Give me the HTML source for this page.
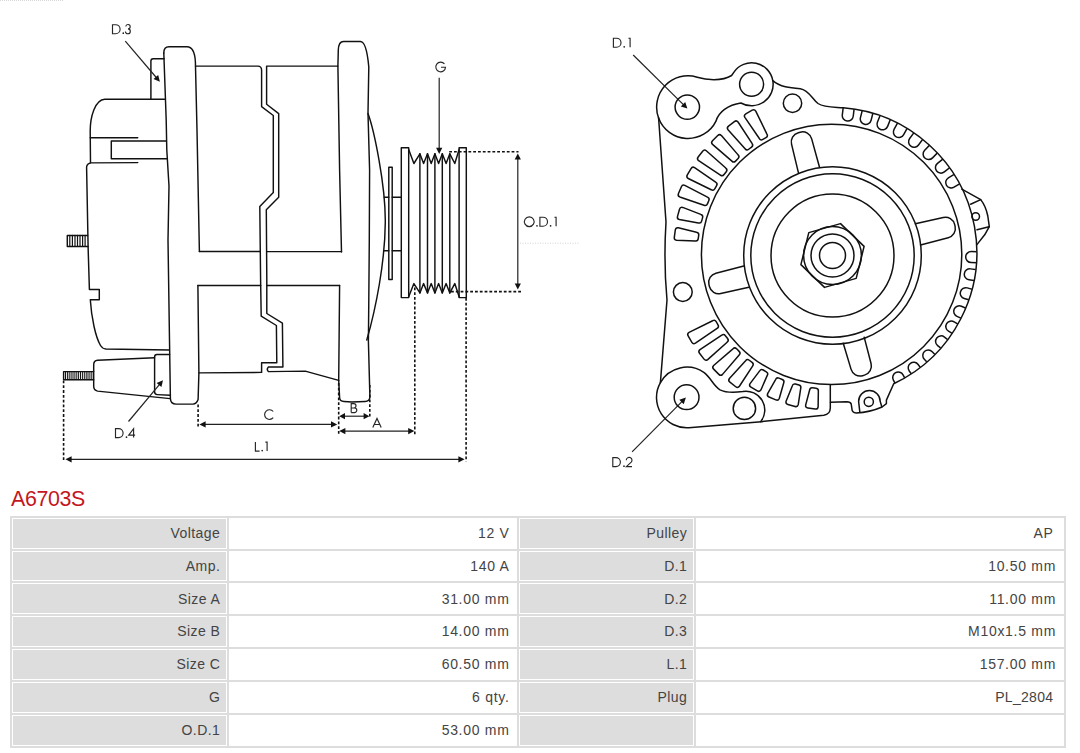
<!DOCTYPE html>
<html><head><meta charset="utf-8"><title>A6703S</title>
<style>
html,body{margin:0;padding:0;background:#fff}
body{width:1080px;height:753px;position:relative;overflow:hidden;font-family:"Liberation Sans",sans-serif}
.g{position:absolute;background:#ddd}
.t{position:absolute;font-size:14px;line-height:16px;height:16px;color:#444;white-space:nowrap;letter-spacing:0.45px}
.v{letter-spacing:0.7px}
h1{position:absolute;left:11px;top:487px;margin:0;font-size:21.4px;line-height:24px;font-weight:normal;color:#c4161d;letter-spacing:-0.35px}
</style></head><body>
<svg width="1080" height="480" viewBox="0 0 1080 480" style="position:absolute;left:0;top:0"><g fill="none" stroke="#111" stroke-width="1.45" stroke-linejoin="round" stroke-linecap="round"><path d="M163.8,53 Q163.8,46.8 169,46.8 H187 Q194.6,46.8 195.4,62 L197,130 L199.4,251.5"/>
<path d="M163.8,53 L166.2,120 L166.8,150 L169,186 L168,240 L169.5,340 L170.4,398.5 Q170.6,404 176,404.1 H193 Q196.5,404 198.1,399.5 L198.9,372.9 L197.9,285.4"/>
<path d="M164.1,58.7 H153.2 Q150.9,58.7 150.9,61 V99.2"/>
<path d="M164.6,99.2 H104.8 C95,99.5 90.2,117 90.2,131 L90.5,162.8"/>
<path d="M90.3,137.8 H137.7"/>
<path d="M166.4,141 H111.3 V158.7 H166.9"/>
<path d="M137.7,162.6 L90.5,162.9 L88.3,163.8 Q86.5,165 86.6,167.6 L88.1,247 L89.4,289.5 H99.3 V299.7 H90.3 C91.5,318 95.5,337 100.5,345.5 Q102.5,348.8 106,349 L169.3,350"/>
<path d="M87.6,235.4 H67.3 V246.5 H88"/>
<path d="M69.8,235.4 V246.5" stroke-width="1.2"/>
<path d="M72.4,235.4 V246.5" stroke-width="1.2"/>
<path d="M75,235.4 V246.5" stroke-width="1.2"/>
<path d="M77.5,235.4 V246.5" stroke-width="1.2"/>
<path d="M80,235.4 V246.5" stroke-width="1.2"/>
<path d="M82.6,235.4 V246.5" stroke-width="1.2"/>
<path d="M85.1,235.4 V246.5" stroke-width="1.2"/>
<path d="M154.6,357.7 L97.6,360.2 Q93.7,360.6 93.7,364.6 V386.3 Q93.7,390.4 97.6,391.1 L170.1,398.6"/>
<path d="M169.6,354.5 H157 Q154.6,354.5 154.6,357 V391.8 Q154.6,394.5 157.2,394.6 L170.2,395.2"/>
<path d="M93.7,371.6 H63.6 V379.7 H93.7"/>
<path d="M65.5,371.6 V379.7" stroke-width="1"/>
<path d="M67.4,371.6 V379.7" stroke-width="1"/>
<path d="M69.2,371.6 V379.7" stroke-width="1"/>
<path d="M71.1,371.6 V379.7" stroke-width="1"/>
<path d="M73,371.6 V379.7" stroke-width="1"/>
<path d="M74.9,371.6 V379.7" stroke-width="1"/>
<path d="M76.8,371.6 V379.7" stroke-width="1"/>
<path d="M78.6,371.6 V379.7" stroke-width="1"/>
<path d="M80.5,371.6 V379.7" stroke-width="1"/>
<path d="M82.4,371.6 V379.7" stroke-width="1"/>
<path d="M84.3,371.6 V379.7" stroke-width="1"/>
<path d="M86.2,371.6 V379.7" stroke-width="1"/>
<path d="M88,371.6 V379.7" stroke-width="1"/>
<path d="M89.9,371.6 V379.7" stroke-width="1"/>
<path d="M91.8,371.6 V379.7" stroke-width="1"/>
<path d="M195.5,66.1 H258 Q261.4,66.2 261.6,70 V106.6 L273.3,115.5 V192.5 L259.8,206.5 L260.6,280 L261.2,316.2 L276.4,325.5 L276.8,362.7 H261.6 V372.4 L198.9,372.9"/>
<path d="M337.9,66.1 H266.6 V104.3 L278.7,113.6 V197.2 L266.3,209.8 L266.8,280 L266.8,313.5 L282.4,323.1 L282.9,367 H268.4 Q266.2,369.3 268.4,371.6 L305.2,371.1 L338.7,380.4"/>
<path d="M199.4,251.5 H260.3"/>
<path d="M266.6,251.6 H341.5"/>
<path d="M197.9,285.4 H260.7"/>
<path d="M266.8,285.4 H339.6"/>
<path d="M341.5,252 L339.6,170 L337.9,66.1 L338.3,50 Q338.6,41.5 343.5,41.5 H360.5 Q366.5,41.5 368.8,67 L368,113.6 L369.6,170 L369.3,240 L368.8,300 L368.4,341.3 L369.9,397 Q369.8,401.3 365,401.5 L352,402 L344,401.5 Q339.8,401.3 339.6,397.5 L338.7,380.4 L339.6,285.4"/>
<path d="M368,113.6 C374,130 385.6,185 385.3,222 C385,262 376,308 366.8,340"/>
<path d="M388.8,279.4 V167.2 H392.2 V279.4 Z"/>
<path d="M384.3,197.3 H388.8 M392.2,197.3 H401.3 M384.3,250.7 H388.8 M392.2,250.7 H401.3"/>
<path d="M401.3,147.7 H408.7 V297.6 H401.3 Z"/>
<path d="M459.1,147.7 H466.3 V297.6 H459.1 Z"/>
<path d="M408.7,149.5 L413.9,163.5 L419.9,153.8 L423.6,163.5 L427.5,153.8 L431.2,163.5 L434.9,153.8 L438.6,163.5 L442.3,153.8 L446.1,163.5 L449.8,153.8 L454.8,163.5 L459.1,149.5"/>
<path d="M408.7,296.7 L413.9,283.6 L419.9,292.9 L423.6,283.6 L427.5,292.9 L431.2,283.6 L434.9,292.9 L438.6,283.6 L442.3,292.9 L446.1,283.6 L449.8,292.9 L454.8,283.6 L459.1,296.7"/>
<path d="M419.9,153.8 V292.9"/>
<path d="M427.5,153.8 V292.9"/>
<path d="M434.9,153.8 V292.9"/>
<path d="M442.3,153.8 V292.9"/>
<path d="M449.8,153.8 V292.9"/></g>
<g fill="none" stroke="#111" stroke-width="1.6" stroke-dasharray="2.8 2"><path d="M63.6,380.5 V461.5"/><path d="M198.1,404.5 V427.4"/><path d="M338.7,383 V434"/><path d="M369.8,385 V418"/><path d="M414.8,287.4 V434.6"/><path d="M466.1,298 V461.5"/><path d="M449.2,151.7 H518.5"/><path d="M451,291.6 H521.3"/></g>
<path d="M204.4,424.4 L332.2,424.4" stroke="#222" stroke-width="1.2" fill="none"/><path d="M337.2,424.4 L331,427.5 L331,421.3 Z" fill="#111"/><path d="M199.4,424.4 L205.6,421.3 L205.6,427.5 Z" fill="#111"/><path d="M343.8,416.2 L364.8,416.2" stroke="#222" stroke-width="1.2" fill="none"/><path d="M369.4,416.2 L363.6,419.3 L363.6,413.1 Z" fill="#111"/><path d="M339.2,416.2 L345,413.1 L345,419.3 Z" fill="#111"/><path d="M344.2,431.1 L409.4,431.1" stroke="#222" stroke-width="1.2" fill="none"/><path d="M414.4,431.1 L408.2,434.2 L408.2,428 Z" fill="#111"/><path d="M339.2,431.1 L345.4,428 L345.4,434.2 Z" fill="#111"/><path d="M70.4,459.3 L459.6,459.3" stroke="#222" stroke-width="1.2" fill="none"/><path d="M464.6,459.3 L458.4,462.4 L458.4,456.2 Z" fill="#111"/><path d="M65.4,459.3 L71.6,456.2 L71.6,462.4 Z" fill="#111"/><path d="M517.8,158.4 L517.8,284.6" stroke="#222" stroke-width="1.2" fill="none"/><path d="M517.8,289.6 L514.7,283.4 L520.9,283.4 Z" fill="#111"/><path d="M517.8,153.4 L520.9,159.6 L514.7,159.6 Z" fill="#111"/><path d="M439.2,77.7 L439.2,149" stroke="#222" stroke-width="1.2" fill="none"/><path d="M439.2,154 L436.1,147.8 L442.3,147.8 Z" fill="#111"/><path d="M125.3,41.2 L156.7,78" stroke="#222" stroke-width="1.2" fill="none"/><path d="M159.9,81.8 L153.5,79.1 L158.2,75.1 Z" fill="#111"/><path d="M128.5,421.5 L159.8,384.1" stroke="#222" stroke-width="1.2" fill="none"/><path d="M163,380.3 L161.4,387 L156.6,383.1 Z" fill="#111"/><path d="M633.2,55 L683.9,105.1" stroke="#222" stroke-width="1.2" fill="none"/><path d="M687.4,108.6 L680.8,106.4 L685.2,102 Z" fill="#111"/><path d="M632.1,451.8 L682.4,401.1" stroke="#222" stroke-width="1.2" fill="none"/><path d="M685.9,397.6 L683.7,404.2 L679.3,399.8 Z" fill="#111"/>
<path d="M520,243.2 H580" stroke="#d4d4d4" stroke-width="1" stroke-dasharray="1 1.5" fill="none"/>
<path d="M0,0.5 H64" stroke="#d8d8d8" stroke-width="1" stroke-dasharray="1 1" fill="none"/>
<g fill="none" stroke="#111" stroke-width="1.5" stroke-linejoin="round" stroke-linecap="round"><circle cx="832.5" cy="255.5" r="13"/>
<circle cx="832.5" cy="255.5" r="21.5"/>
<circle cx="832.5" cy="255.5" r="28.9"/>
<circle cx="832.5" cy="255.5" r="61.5"/>
<circle cx="832.5" cy="255.5" r="81.7"/>
<circle cx="832.5" cy="255.5" r="88.8"/>
<path d="M840.5,223.6 L864.1,246.4 L856.2,278.4 L824.5,287.4 L800.9,264.6 L808.8,232.6 Z"/>
<circle cx="831.6" cy="254.4" r="130.2"/>
<path transform="translate(832.2,255.5) rotate(-13.8)" d="M88.3,-10.9 L116.9,-10.4 A9.4,9.4 0 0 1 126.3,-1 L126.3,1 A9.4,9.4 0 0 1 116.9,10.4 L88.3,10.9"/>
<path transform="translate(831,255.2) rotate(-104.5)" d="M88.3,-10.9 L117.4,-10.4 A9.4,9.4 0 0 1 126.8,-1 L126.8,1 A9.4,9.4 0 0 1 117.4,10.4 L88.3,10.9"/>
<path transform="translate(832.2,256) rotate(166.5)" d="M88.3,-10.9 L117.1,-10.4 A9.4,9.4 0 0 1 126.5,-1 L126.5,1 A9.4,9.4 0 0 1 117.1,10.4 L88.3,10.9"/>
<path transform="translate(830,255.2) rotate(74.4)" d="M88.3,-10.9 L115.4,-10.4 A9.4,9.4 0 0 1 124.8,-1 L124.8,1 A9.4,9.4 0 0 1 115.4,10.4 L88.3,10.9"/>
<circle cx="687.3" cy="107.1" r="12.2"/>
<circle cx="751.6" cy="84.3" r="12"/>
<circle cx="792.5" cy="103.3" r="9.2"/>
<circle cx="682.8" cy="292" r="9.4"/>
<circle cx="686.6" cy="397.2" r="12.4"/>
<circle cx="744.4" cy="408.4" r="11.2"/>
<circle cx="868.8" cy="401.8" r="4.6"/>
<circle cx="975.7" cy="216.5" r="3.8"/>
<path d="M658.6,118 A31.3,31.3 0 0 1 697.2,77.2 C706,80 722,81.5 731.6,75.5 L733.8,72.3 A21.5,21.5 0 0 1 772.8,80.6 C780,87 790,88 800.3,88.7 C809,90 812,99 818,103.5 C824,107.5 833,107 843.2,107.7 A145.2,145.2 0 0 1 893.7,383.7 L886.4,400.1 V403.6 L882.1,407 C874,410.5 864,412.6 856.2,413 Q852,412.5 851.9,408.7 L851.2,404 Q850.5,401.8 846.8,401.8 L830.5,402.2"/>
<path d="M830.3,385 L830.3,408 Q830.2,414.3 823.8,415.2 L761.2,421.7 L688.9,427.7 A30.3,30.3 0 0 1 660.4,382.6 L667,300 Q663.5,262 666,222 L658.6,118"/>
<path d="M658.6,118 A31.3,31.3 0 0 0 716,121.1 C718.5,112 728,104.8 740.9,103 A21.5,21.5 0 0 0 772.8,80.6"/>
<path d="M660.4,382.6 A30.3,30.3 0 0 1 704.2,372.7 C711,378 714,386.5 720,389.8 C725,392.3 732,393 742.7,391.5 A18.8,18.8 0 0 1 760.7,421.7"/>
<path d="M859.8,411.8 L858.6,401.4 A10.8,10.8 0 0 1 880.2,401.4 L881.8,406.8"/>
<path d="M961.8,189.2 L980.7,199.6 C985,205 987,212 987.8,216 L989.3,226.6 L984.7,234.8 L976.9,244.6"/>
<path d="M970.6,204.2 L980.7,199.6 M977,229.8 L989.1,226.7"/>
<path transform="translate(832.5,255.5) rotate(239.8)" d="M137.9,-4.4 L163.4,-6.3 Q166,-6.3 166,-3.7 L166,3.7 Q166,6.3 163.4,6.3 L137.9,4.4 Q135.3,4.4 135.3,1.8 L135.3,-1.8 Q135.3,-4.4 137.9,-4.4 Z"/>
<path transform="translate(832.5,255.5) rotate(232.5)" d="M137.9,-4.4 L163.4,-6.3 Q166,-6.3 166,-3.7 L166,3.7 Q166,6.3 163.4,6.3 L137.9,4.4 Q135.3,4.4 135.3,1.8 L135.3,-1.8 Q135.3,-4.4 137.9,-4.4 Z"/>
<path transform="translate(832.5,255.5) rotate(225)" d="M137.9,-4.4 L163.4,-6.3 Q166,-6.3 166,-3.7 L166,3.7 Q166,6.3 163.4,6.3 L137.9,4.4 Q135.3,4.4 135.3,1.8 L135.3,-1.8 Q135.3,-4.4 137.9,-4.4 Z"/>
<path transform="translate(832.5,255.5) rotate(217.5)" d="M137.9,-4.4 L163.9,-6.3 Q166.5,-6.3 166.5,-3.7 L166.5,3.7 Q166.5,6.3 163.9,6.3 L137.9,4.4 Q135.3,4.4 135.3,1.8 L135.3,-1.8 Q135.3,-4.4 137.9,-4.4 Z"/>
<path transform="translate(832.5,255.5) rotate(210.3)" d="M137.9,-4.4 L163.4,-6.3 Q166,-6.3 166,-3.7 L166,3.7 Q166,6.3 163.4,6.3 L137.9,4.4 Q135.3,4.4 135.3,1.8 L135.3,-1.8 Q135.3,-4.4 137.9,-4.4 Z"/>
<path transform="translate(832.5,255.5) rotate(203.2)" d="M137.9,-4.4 L163.4,-6.3 Q166,-6.3 166,-3.7 L166,3.7 Q166,6.3 163.4,6.3 L137.9,4.4 Q135.3,4.4 135.3,1.8 L135.3,-1.8 Q135.3,-4.4 137.9,-4.4 Z"/>
<path transform="translate(832.5,255.5) rotate(195.5)" d="M137.9,-4.4 L157.2,-6.3 Q159.8,-6.3 159.8,-3.7 L159.8,3.7 Q159.8,6.3 157.2,6.3 L137.9,4.4 Q135.3,4.4 135.3,1.8 L135.3,-1.8 Q135.3,-4.4 137.9,-4.4 Z"/>
<path transform="translate(832.5,255.5) rotate(187.9)" d="M137.9,-4.4 L156.6,-6.3 Q159.2,-6.3 159.2,-3.7 L159.2,3.7 Q159.2,6.3 156.6,6.3 L137.9,4.4 Q135.3,4.4 135.3,1.8 L135.3,-1.8 Q135.3,-4.4 137.9,-4.4 Z"/>
<path transform="translate(832.5,255.5) rotate(149.6)" d="M136.4,-4.4 L162.6,-6.3 Q165.2,-6.3 165.2,-3.7 L165.2,3.7 Q165.2,6.3 162.6,6.3 L136.4,4.4 Q133.8,4.4 133.8,1.8 L133.8,-1.8 Q133.8,-4.4 136.4,-4.4 Z"/>
<path transform="translate(832.5,255.5) rotate(142.4)" d="M136.4,-4.4 L162.4,-6.3 Q165,-6.3 165,-3.7 L165,3.7 Q165,6.3 162.4,6.3 L136.4,4.4 Q133.8,4.4 133.8,1.8 L133.8,-1.8 Q133.8,-4.4 136.4,-4.4 Z"/>
<path transform="translate(832.5,255.5) rotate(135)" d="M136.4,-4.4 L161.8,-6.3 Q164.4,-6.3 164.4,-3.7 L164.4,3.7 Q164.4,6.3 161.8,6.3 L136.4,4.4 Q133.8,4.4 133.8,1.8 L133.8,-1.8 Q133.8,-4.4 136.4,-4.4 Z"/>
<path transform="translate(832.5,255.5) rotate(127.7)" d="M136.4,-4.4 L160.4,-6.3 Q163,-6.3 163,-3.7 L163,3.7 Q163,6.3 160.4,6.3 L136.4,4.4 Q133.8,4.4 133.8,1.8 L133.8,-1.8 Q133.8,-4.4 136.4,-4.4 Z"/>
<path transform="translate(832.5,255.5) rotate(120.4)" d="M136.4,-4.4 L152.2,-6.3 Q154.8,-6.3 154.8,-3.7 L154.8,3.7 Q154.8,6.3 152.2,6.3 L136.4,4.4 Q133.8,4.4 133.8,1.8 L133.8,-1.8 Q133.8,-4.4 136.4,-4.4 Z"/>
<path transform="translate(832.5,255.5) rotate(112.8)" d="M136.4,-4.4 L152.4,-6.3 Q155,-6.3 155,-3.7 L155,3.7 Q155,6.3 152.4,6.3 L136.4,4.4 Q133.8,4.4 133.8,1.8 L133.8,-1.8 Q133.8,-4.4 136.4,-4.4 Z"/>
<path transform="translate(832.5,255.5) rotate(105.3)" d="M136.4,-4.4 L152.9,-6.3 Q155.5,-6.3 155.5,-3.7 L155.5,3.7 Q155.5,6.3 152.9,6.3 L136.4,4.4 Q133.8,4.4 133.8,1.8 L133.8,-1.8 Q133.8,-4.4 136.4,-4.4 Z"/>
<path transform="translate(832.5,255.5) rotate(97.8)" d="M136.4,-4.4 L151.9,-6.3 Q154.5,-6.3 154.5,-3.7 L154.5,3.7 Q154.5,6.3 151.9,6.3 L136.4,4.4 Q133.8,4.4 133.8,1.8 L133.8,-1.8 Q133.8,-4.4 136.4,-4.4 Z"/></g>
<clipPath id="oc"><circle cx="831.6" cy="252.4" r="145.2"/></clipPath>
<g clip-path="url(#oc)" fill="none" stroke="#111" stroke-width="1.5"><path transform="translate(831.2,254.6) rotate(-83.2)" d="M152,-5.5 L140,-5.5 A5.5,5.5 0 0 0 140,5.5 L152,5.5"/><path transform="translate(831.2,254.6) rotate(-75.7)" d="M152,-5.5 L140,-5.5 A5.5,5.5 0 0 0 140,5.5 L152,5.5"/><path transform="translate(831.2,254.6) rotate(-68.5)" d="M152,-5.5 L140,-5.5 A5.5,5.5 0 0 0 140,5.5 L152,5.5"/><path transform="translate(831.2,254.6) rotate(-61.1)" d="M152,-5.5 L140,-5.5 A5.5,5.5 0 0 0 140,5.5 L152,5.5"/><path transform="translate(831.2,254.6) rotate(-53.7)" d="M152,-5.5 L140,-5.5 A5.5,5.5 0 0 0 140,5.5 L152,5.5"/><path transform="translate(831.2,254.6) rotate(-45.9)" d="M152,-5.5 L140,-5.5 A5.5,5.5 0 0 0 140,5.5 L152,5.5"/><path transform="translate(831.2,254.6) rotate(-38.4)" d="M152,-5.5 L140,-5.5 A5.5,5.5 0 0 0 140,5.5 L152,5.5"/><path transform="translate(831.2,254.6) rotate(-31)" d="M152,-5.5 L140,-5.5 A5.5,5.5 0 0 0 140,5.5 L152,5.5"/><path transform="translate(831.2,254.6) rotate(1)" d="M152,-5.5 L140,-5.5 A5.5,5.5 0 0 0 140,5.5 L152,5.5"/><path transform="translate(831.2,254.6) rotate(8.1)" d="M152,-5.5 L140,-5.5 A5.5,5.5 0 0 0 140,5.5 L152,5.5"/><path transform="translate(831.2,254.6) rotate(16)" d="M152,-5.5 L140,-5.5 A5.5,5.5 0 0 0 140,5.5 L152,5.5"/><path transform="translate(831.2,254.6) rotate(23.9)" d="M152,-5.5 L140,-5.5 A5.5,5.5 0 0 0 140,5.5 L152,5.5"/><path transform="translate(831.2,254.6) rotate(30.9)" d="M152,-5.5 L140,-5.5 A5.5,5.5 0 0 0 140,5.5 L152,5.5"/><path transform="translate(831.2,254.6) rotate(38.3)" d="M152,-5.5 L140,-5.5 A5.5,5.5 0 0 0 140,5.5 L152,5.5"/><path transform="translate(831.2,254.6) rotate(46.1)" d="M152,-5.5 L140,-5.5 A5.5,5.5 0 0 0 140,5.5 L152,5.5"/><path transform="translate(831.2,254.6) rotate(53.9)" d="M152,-5.5 L140,-5.5 A5.5,5.5 0 0 0 140,5.5 L152,5.5"/><path transform="translate(831.2,254.6) rotate(61.4)" d="M152,-5.5 L140,-5.5 A5.5,5.5 0 0 0 140,5.5 L152,5.5"/></g>
<g fill="none" stroke="#262626" stroke-width="1.15" stroke-linejoin="miter" stroke-linecap="butt"><path transform="translate(112.5,33.7)" d="M0,0 V-9 H3.1 A4.5,4.5 0 0 1 3.1,0 Z"/><circle cx="123.3" cy="33.2" r="0.85" fill="#222" stroke="none"/><path transform="translate(125.1,33.7)" d="M0.7,-7.2 A2.2,2.2 0 1 1 2.9,-4.8 A2.45,2.45 0 1 1 0.3,-2.2"/><path transform="translate(435.8,71.5)" d="M8.7,-7.5 A4.85,4.85 0 1 0 9.7,-4.3 H5.2"/><path transform="translate(524.4,226.2)" d="M4.85,-9.35 A4.85,4.85 0 1 1 4.84,-9.35 Z"/><circle cx="537" cy="225.8" r="0.85" fill="#222" stroke="none"/><path transform="translate(539.9,226.2)" d="M0,0 V-9 H3.1 A4.5,4.5 0 0 1 3.1,0 Z"/><circle cx="550.6" cy="225.8" r="0.85" fill="#222" stroke="none"/><path transform="translate(554.4,226.2)" d="M0,-9 H1.7 V0"/><path transform="translate(264.6,419.1)" d="M8.6,-7.6 A4.85,4.85 0 1 0 8.6,-1.4"/><path transform="translate(351.2,412.6)" d="M0,0 V-9 H2.6 A2.2,2.2 0 0 1 2.6,-4.6 H0 M2.6,-4.6 H3.3 A2.3,2.3 0 0 1 3.3,0 H0"/><path transform="translate(372.8,427.6)" d="M0,0 L4.2,-9.2 L8.4,0 M1.6,-3.1 H6.8"/><path transform="translate(255.4,451.1)" d="M0,-9 V0 H4.2"/><circle cx="262.2" cy="450.6" r="0.85" fill="#222" stroke="none"/><path transform="translate(265.4,451.1)" d="M0,-9 H1.7 V0"/><path transform="translate(115.5,437.6)" d="M0,0 V-9 H3.1 A4.5,4.5 0 0 1 3.1,0 Z"/><circle cx="126.5" cy="437.2" r="0.85" fill="#222" stroke="none"/><path transform="translate(128.7,437.6)" d="M4.9,0 V-9 L0,-2.5 H6.4"/><path transform="translate(613.4,47.2)" d="M0,0 V-9 H3.1 A4.5,4.5 0 0 1 3.1,0 Z"/><circle cx="624.2" cy="46.8" r="0.85" fill="#222" stroke="none"/><path transform="translate(628.4,47.2)" d="M0,-9 H1.7 V0"/><path transform="translate(612.8,466.6)" d="M0,0 V-9 H3.1 A4.5,4.5 0 0 1 3.1,0 Z"/><circle cx="624" cy="466.2" r="0.85" fill="#222" stroke="none"/><path transform="translate(626,466.6)" d="M0.3,-6.3 A2.85,2.85 0 1 1 5.2,-4.4 L0.4,0 H6"/></g></svg>
<h1>A6703S</h1>
<div class="g" style="left:10px;top:516px;width:1056px;height:2px"></div>
<div class="g" style="left:10px;top:549px;width:1056px;height:2px"></div>
<div class="g" style="left:10px;top:581px;width:1056px;height:2px"></div>
<div class="g" style="left:10px;top:614px;width:1056px;height:2px"></div>
<div class="g" style="left:10px;top:647px;width:1056px;height:2px"></div>
<div class="g" style="left:10px;top:680px;width:1056px;height:2px"></div>
<div class="g" style="left:10px;top:713px;width:1056px;height:2px"></div>
<div class="g" style="left:10px;top:746px;width:1056px;height:2px"></div>
<div class="g" style="left:10px;top:516px;width:2px;height:232px"></div>
<div class="g" style="left:227px;top:516px;width:2px;height:232px"></div>
<div class="g" style="left:517px;top:516px;width:2px;height:232px"></div>
<div class="g" style="left:694px;top:516px;width:2px;height:232px"></div>
<div class="g" style="left:1064px;top:516px;width:2px;height:232px"></div>
<div class="g" style="left:13px;top:519px;width:213px;height:29px"></div>
<div class="g" style="left:520px;top:519px;width:173px;height:29px"></div>
<div class="t" style="right:859.7px;top:524.8px">Voltage</div>
<div class="t v" style="right:570.5px;top:524.8px">12 V</div>
<div class="t" style="right:392.7px;top:524.8px">Pulley</div>
<div class="t v" style="right:26.4px;top:524.8px">AP</div>
<div class="g" style="left:13px;top:552px;width:213px;height:28px"></div>
<div class="g" style="left:520px;top:552px;width:173px;height:28px"></div>
<div class="t" style="right:859.7px;top:557.7px">Amp.</div>
<div class="t v" style="right:570.5px;top:557.7px">140 A</div>
<div class="t" style="right:392.7px;top:557.7px">D.1</div>
<div class="t v" style="right:24px;top:557.7px">10.50 mm</div>
<div class="g" style="left:13px;top:584px;width:213px;height:29px"></div>
<div class="g" style="left:520px;top:584px;width:173px;height:29px"></div>
<div class="t" style="right:859.7px;top:590.5px">Size A</div>
<div class="t v" style="right:570.5px;top:590.5px">31.00 mm</div>
<div class="t" style="right:392.7px;top:590.5px">D.2</div>
<div class="t v" style="right:24px;top:590.5px">11.00 mm</div>
<div class="g" style="left:13px;top:617px;width:213px;height:29px"></div>
<div class="g" style="left:520px;top:617px;width:173px;height:29px"></div>
<div class="t" style="right:859.7px;top:623.4px">Size B</div>
<div class="t v" style="right:570.5px;top:623.4px">14.00 mm</div>
<div class="t" style="right:392.7px;top:623.4px">D.3</div>
<div class="t v" style="right:24px;top:623.4px">M10x1.5 mm</div>
<div class="g" style="left:13px;top:650px;width:213px;height:29px"></div>
<div class="g" style="left:520px;top:650px;width:173px;height:29px"></div>
<div class="t" style="right:859.7px;top:656.2px">Size C</div>
<div class="t v" style="right:570.5px;top:656.2px">60.50 mm</div>
<div class="t" style="right:392.7px;top:656.2px">L.1</div>
<div class="t v" style="right:24px;top:656.2px">157.00 mm</div>
<div class="g" style="left:13px;top:683px;width:213px;height:29px"></div>
<div class="g" style="left:520px;top:683px;width:173px;height:29px"></div>
<div class="t" style="right:859.7px;top:689.1px">G</div>
<div class="t v" style="right:570.5px;top:689.1px">6 qty.</div>
<div class="t" style="right:392.7px;top:689.1px">Plug</div>
<div class="t v" style="right:26.7px;top:689.1px;letter-spacing:0.3px">PL_2804</div>
<div class="g" style="left:13px;top:716px;width:213px;height:29px"></div>
<div class="g" style="left:520px;top:716px;width:173px;height:29px"></div>
<div class="t" style="right:859.7px;top:722px">O.D.1</div>
<div class="t v" style="right:570.5px;top:722px">53.00 mm</div>
</body></html>
